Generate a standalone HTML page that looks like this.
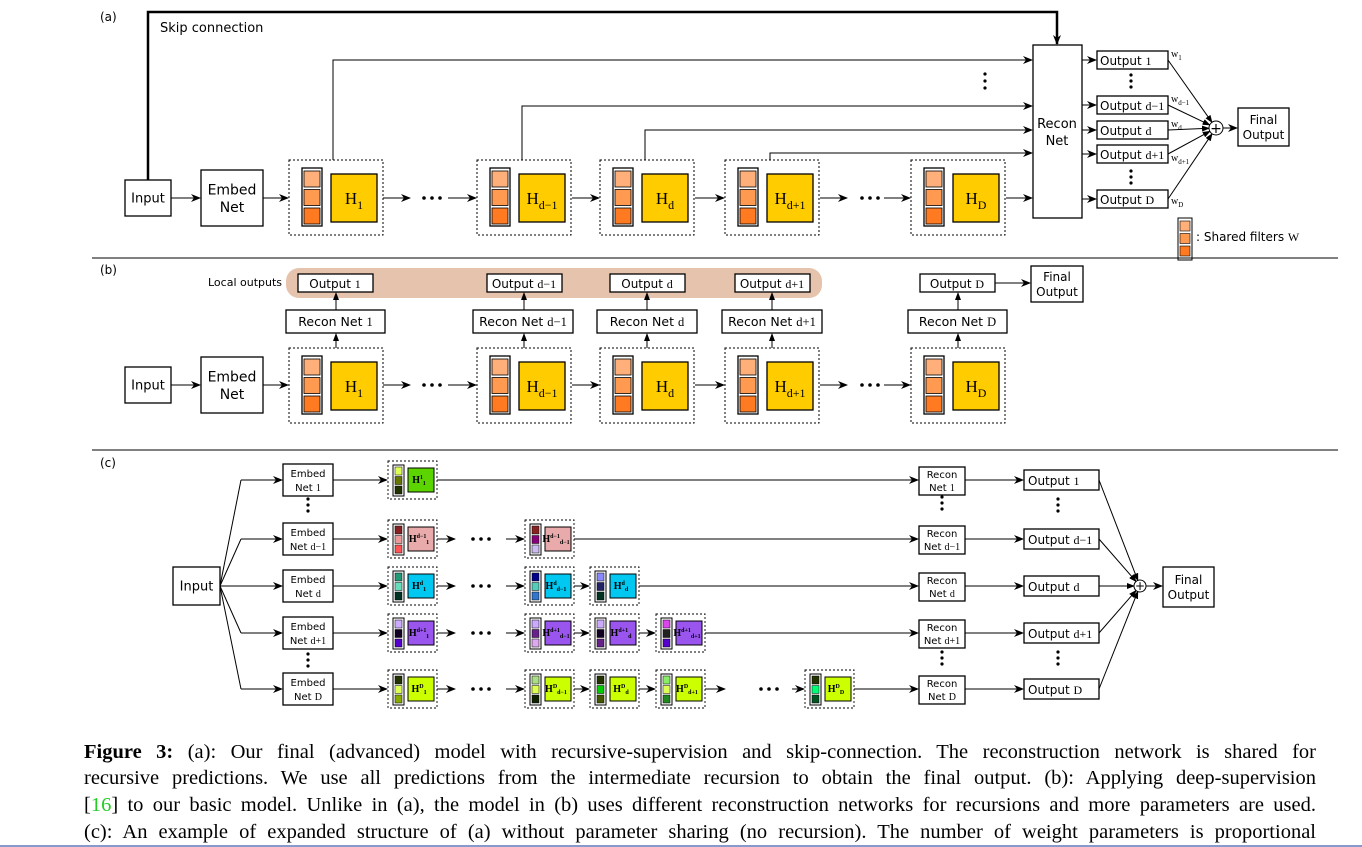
<!DOCTYPE html>
<html><head><meta charset="utf-8">
<style>
body{margin:0;background:#fff;width:1362px;height:847px;overflow:hidden;position:relative;font-family:"DejaVu Sans","Liberation Sans",sans-serif}
svg{position:absolute;left:0;top:0}
.cap{position:absolute;left:84px;width:1232px;font-family:"Liberation Serif",serif;font-size:20.5px;text-align:justify;text-align-last:justify;white-space:nowrap;line-height:22px}
</style></head><body>
<svg id="s" width="1362" height="847" viewBox="0 0 1362 847" xmlns="http://www.w3.org/2000/svg">
<defs>
<marker id="ar" markerWidth="10" markerHeight="8" refX="9" refY="4" orient="auto" markerUnits="userSpaceOnUse"><path d="M0,0 L10,4 L0,8 L3,4 z" fill="#000"/></marker>
<marker id="as" markerWidth="8" markerHeight="6" refX="7" refY="3" orient="auto" markerUnits="userSpaceOnUse"><path d="M0,0 L8,3 L0,6 z" fill="#000"/></marker>
</defs>
<g id="g"></g>
</svg>
<div class="cap" style="top:741px"><b>Figure 3:</b> (a): Our final (advanced) model with recursive-supervision and skip-connection. The reconstruction network is shared for</div>
<div class="cap" style="top:767px">recursive predictions. We use all predictions from the intermediate recursion to obtain the final output. (b): Applying deep-supervision</div>
<div class="cap" style="top:794px">[<span style="color:#2c2">16</span>] to our basic model. Unlike in (a), the model in (b) uses different reconstruction networks for recursions and more parameters are used.</div>
<div class="cap" style="top:821px">(c): An example of expanded structure of (a) without parameter sharing (no recursion). The number of weight parameters is proportional</div>
<div style="position:absolute;left:0;top:845px;width:1362px;height:2px;background:#8899cc"></div>
<script>
var o='';
function L(x1,y1,x2,y2,a,w){o+='<line x1="'+x1+'" y1="'+y1+'" x2="'+x2+'" y2="'+y2+'" stroke="#000" stroke-width="'+(w||1)+'"'+(a?' marker-end="url(#'+a+')"':'')+'/>';}
function LC(x1,y1,cx,cy,r,a){var dx=cx-x1,dy=cy-y1,d=Math.sqrt(dx*dx+dy*dy);L(x1,y1,cx-dx/d*r,cy-dy/d*r,a);}
function P(d,a,w){o+='<path d="'+d+'" fill="none" stroke="#000" stroke-width="'+(w||1)+'"'+(a?' marker-end="url(#'+a+')"':'')+'/>';}
function R(x,y,w,h,f,sw,extra){o+='<rect x="'+x+'" y="'+y+'" width="'+w+'" height="'+h+'" fill="'+(f||'#fff')+'" stroke="#000" stroke-width="'+(sw||1.3)+'" '+(extra||'')+'/>';}
function T(x,y,s,fs,anchor,fam){o+='<text x="'+x+'" y="'+y+'" font-size="'+fs+'" text-anchor="'+(anchor||'middle')+'"'+(fam?' font-family="'+fam+'"':'')+'>'+s+'</text>';}
function box(x,y,w,h,lines,fs){R(x,y,w,h);var n=lines.length,lh=fs*1.25;for(var i=0;i<n;i++)T(x+w/2,y+h/2+(i-(n-1)/2)*lh+fs*0.36,lines[i],fs);}
function dots3(x,y){for(var i=0;i<3;i++)o+='<circle cx="'+(x+i*8)+'" cy="'+y+'" r="1.8"/>';}
function vdots(x,y,sp){for(var i=0;i<3;i++)o+='<circle cx="'+x+'" cy="'+(y+i*(sp||7))+'" r="1.6"/>';}
var S='font-family="Liberation Serif"';
function lab(t,n){return t+' <tspan '+S+'>'+n+'</tspan>';}
function blk(x,y,sub){
 R(x,y,94,75,'none',1,'stroke-dasharray="2,2"');
 R(x+13,y+8,20,58,'#fff',1.3);
 var c=['#FFB07A','#FF9A50','#FF7A20'];
 for(var i=0;i<3;i++)R(x+15,y+11+i*18.5,16,16,c[i],0.8);
 R(x+42,y+14,46,48,'#FFCC00',1.3);
 o+='<text x="'+(x+65)+'" y="'+(y+44)+'" font-size="17" text-anchor="middle" '+S+'>H<tspan font-size="12" dy="5">'+sub+'</tspan></text>';
}
T(100,21,'(a)',12,'start');
T(160,32,'Skip connection',13,'start');
P('M148,180 L148,12 L1057,12 L1057,44','ar',2.5);
box(125,180,46,36,['Input'],13);
box(201,170,62,56,['Embed','Net'],14);
L(171,198,200,198,'ar');L(263,198,288,198,'ar');
var bx=[289,477,600,725,911],sb=['1','d−1','d','d+1','D'];
for(var i=0;i<5;i++)blk(bx[i],160,sb[i]);
L(383,198,410,198,'ar');dots3(424,198);L(448,198,476,198,'ar');
L(572,198,599,198,'ar');L(695,198,724,198,'ar');L(820,198,847,198,'ar');dots3(862,198);L(884,198,910,198,'ar');
L(1006,198,1032,198,'ar');
R(1033,45,49,173);T(1057,128,'Recon',13);T(1057,145,'Net',13);
P('M333,160 L333,60 L1032,60','ar');P('M522,160 L522,106 L1032,106','ar');
P('M645,160 L645,130 L1032,130','ar');P('M770,160 L770,153 L1032,153','ar');
vdots(985,74,7);
var oy=[51,96,121,145,190],on=['1','d−1','d','d+1','D'],wl=['1','d−1','d','d+1','D'];
for(var i=0;i<5;i++){L(1082,oy[i]+9,1096,oy[i]+9,'ar');R(1097,oy[i],71,18);T(1100,oy[i]+14,lab('Output',on[i]),12,'start');
 LC(1168,oy[i]+9,1216,128,7,'as');
 o+='<text x="1171" y="'+(oy[i]+(i==4?14:(i==3?16:6)))+'" font-size="10" '+S+'>w<tspan font-size="7" dy="3">'+wl[i]+'</tspan></text>';}
vdots(1131,75,6);vdots(1131,171,6);
o+='<circle cx="1216" cy="128" r="7" fill="#fff" stroke="#000"/>';T(1216,133,'+',14);
L(1223,128,1237,128,'ar');box(1238,108,51,38,['Final','Output'],12);
R(1178,218,14,42,'#fff',1);var c=['#FFB07A','#FF9A50','#FF7A20'];for(var i=0;i<3;i++)R(1180,221+i*12.5,10,10,c[i],0.6);
T(1196,241,': Shared filters <tspan '+S+'>W</tspan>',12,'start');
L(92,258,1338,258,'',1);
T(100,274,'(b)',12,'start');
o+='<rect x="286" y="268" width="536" height="30" rx="13" fill="#E6C3AD"/>';
T(208,286,'Local outputs',11,'start');
var ox=[298,487,610,735,920],rx=[286,473,597,722,908],rw=[99,100,100,100,99];
for(var i=0;i<5;i++){R(ox[i],274,75,18);T(ox[i]+37,288,lab('Output',on[i]),12);
 box(rx[i],310,rw[i],23,[],12);T(rx[i]+rw[i]/2,326,lab('Recon Net',on[i]),12.5);
 blk(bx[i],348,sb[i]);
 L(bx[i]+47,348,bx[i]+47,334,'as');L(bx[i]+47,310,bx[i]+47,293,'as');}
L(995,283,1030,283,'ar');box(1031,266,52,36,['Final','Output'],12);
box(125,367,46,36,['Input'],13);box(201,357,62,56,['Embed','Net'],14);
L(171,385,200,385,'ar');L(263,385,288,385,'ar');
L(383,385,410,385,'ar');dots3(424,385);L(448,385,476,385,'ar');
L(572,385,599,385,'ar');L(695,385,724,385,'ar');L(820,385,847,385,'ar');dots3(862,385);L(884,385,910,385,'ar');
L(92,450,1338,450,'',1);
T(100,467,'(c)',12,'start');
box(173,567,47,38,['Input'],13);
var ry=[480,539,586,633,689];
var col=['#5BD400','#E8AAAA','#00C8F0','#9955EE','#CCFF00'];
var fc=[[['#DDFF55','#667700','#223300']],
 [['#882222','#EE9999','#FF5555'],['#882222','#880077','#CCBBEE']],
 [['#229977','#66DDBB','#003322'],['#000088','#55CCBB','#3377CC'],['#8888FF','#222266','#003322']],
 [['#CCAAFF','#110022','#5500CC'],['#CCAAFF','#662288','#DDAAEE'],['#CCAAFF','#110022','#662288'],['#DD44EE','#222222','#5500CC']],
 [['#223300','#DDFF55','#88AA00'],['#AADD88','#DDFF55','#112200'],['#223300','#00CC00','#445500'],['#88EE66','#DDFF55','#228822'],['#223300','#00FF77','#005522']]];
var sup=['1','d−1','d','d+1','D'];
var cx=[388,525,590,656,805];
for(var r=0;r<5;r++){var y=ry[r];
 L(220,586,241,y,'',1);L(241,y,282,y,'ar');
 box(283,y-16,50,32,[],11);T(308,y-3,'Embed',10);T(308,y+11,lab('Net',sup[r]),10);
 L(333,y,387,y,'ar');
 var n=fc[r].length,last;
 for(var k=0;k<n;k++){var x=cx[k];
  R(x,y-19,49,38,'none',0.9,'stroke-dasharray="2,2"');
  R(x+5,y-15,11,31,'#fff',1);
  for(var j=0;j<3;j++)R(x+7,y-13+j*9.5,7,8,fc[r][k][j],0.5);
  R(x+20,y-12,26,24,col[r],1);
  var sb2=(k==0?'1':(k==1?'d−1':(k==2?'d':(k==3?'d+1':'D'))));
  o+='<text x="'+(x+31)+'" y="'+(y+3)+'" font-size="10" text-anchor="middle" '+S+' font-weight="bold">H<tspan font-size="6" dy="-4">'+sup[r]+'</tspan><tspan font-size="6" dy="6">'+sb2+'</tspan></text>';
  last=x+49;
  if(k<n-1){if(k==0){L(x+49,y,x+67,y,'ar');dots3(x+85,y);L(x+118,y,cx[1]-1,y,'ar');}
   else if(k==3){L(x+49,y,x+69,y,'ar');dots3(x+105,y);L(x+136,y,cx[4]-1,y,'ar');}
   else L(x+49,y,cx[k+1]-1,y,'ar');}
 }
 L(last,y,918,y,'ar');
 box(919,y-13,46,28,[],10);T(942,y-2,'Recon',10);T(942,y+11,lab('Net',sup[r]),10);
 L(965,y,1023,y,'ar');
 R(1024,y-10,75,20);T(1028,y+5,lab('Output',on[r]),12,'start');
 LC(1099,y,1140,586,6,'as');
}
vdots(308,499,6);vdots(308,654,6);vdots(942,497,6);vdots(942,652,6);vdots(1058,499,6);vdots(1058,652,6);
o+='<circle cx="1140" cy="586" r="6" fill="#fff" stroke="#000"/>';T(1140,590,'+',12);
L(1146,586,1162,586,'ar');box(1163,567,51,40,['Final','Output'],12);
document.getElementById('g').innerHTML=o;
</script>
</body></html>
